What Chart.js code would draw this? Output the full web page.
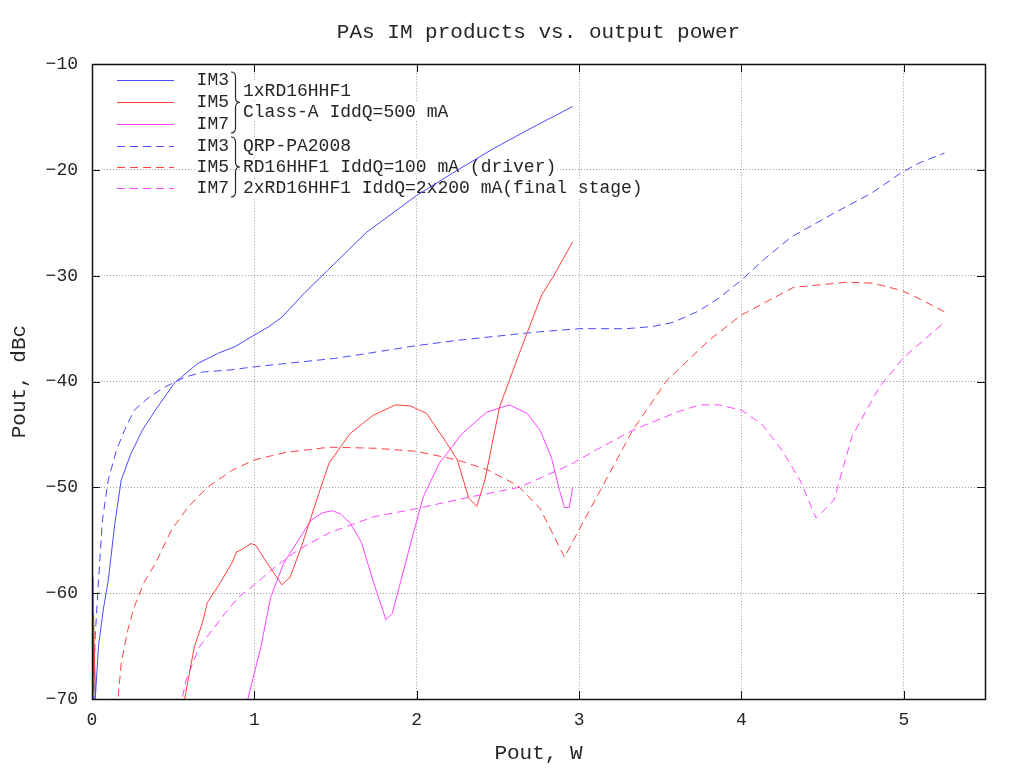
<!DOCTYPE html>
<html>
<head>
<meta charset="utf-8">
<script src="https://cdn.jsdelivr.net/npm/chart.js@4.4.1/dist/chart.umd.min.js"></script>
<style>
  html, body { margin: 0; padding: 0; background: #fff; }
  #chart-im { display: block; }
</style>
</head>
<body>
<canvas id="chart-im" width="1024" height="768"></canvas>
<script>
// ---- data (Pout in W, level in dBc) ----
const xTicks = [0, 1, 2, 3, 4, 5];
const yTicks = [-10, -20, -30, -40, -50, -60, -70];

// 1xRD16HHF1, Class-A IddQ=500 mA
const im3ClassAX = [0.006, 0.012, 0.02, 0.04, 0.07, 0.1, 0.14, 0.18, 0.24, 0.31, 0.39, 0.51, 0.65, 0.78, 0.88, 1.0, 1.09, 1.17, 1.31, 1.45, 1.69, 2.0, 2.22, 2.47, 2.71, 2.96];
const im3ClassAY = [-58.5, -72, -70, -65, -61.5, -58.8, -53.5, -49.3, -46.8, -44.6, -42.7, -40.1, -38.3, -37.3, -36.7, -35.6, -34.8, -33.9, -31.6, -29.5, -25.9, -22.4, -20.3, -18.0, -16.0, -14.0];

const im5ClassAX = [0.01, 0.022, 0.56, 0.57, 0.63, 0.68, 0.71, 0.79, 0.86, 0.89, 0.92, 0.98, 1.01, 1.08, 1.17, 1.22, 1.29, 1.39, 1.46, 1.59, 1.73, 1.87, 1.96, 2.06, 2.18, 2.25, 2.32, 2.37, 2.42, 2.51, 2.57, 2.64, 2.71, 2.77, 2.84, 2.96];
const im5ClassAY = [-62, -72, -72, -70, -65.1, -62.8, -60.9, -59.0, -57.2, -56.1, -55.9, -55.3, -55.5, -57.2, -59.2, -58.5, -55.6, -50.9, -47.7, -44.9, -43.2, -42.2, -42.3, -43.0, -45.7, -47.4, -51.0, -51.8, -49.3, -42.4, -39.9, -37.0, -34.2, -31.8, -30.1, -26.8];

const im7ClassAX = [0.014, 0.026, 0.95, 0.96, 1.04, 1.1, 1.18, 1.27, 1.35, 1.42, 1.48, 1.53, 1.59, 1.66, 1.73, 1.81, 1.85, 1.94, 2.04, 2.14, 2.28, 2.43, 2.57, 2.68, 2.76, 2.83, 2.88, 2.91, 2.94, 2.96];
const im7ClassAY = [-65.5, -72, -72, -70, -65.1, -60.4, -57.2, -55.0, -53.1, -52.4, -52.2, -52.5, -53.4, -55.2, -58.8, -62.5, -61.9, -56.6, -50.9, -47.7, -44.9, -42.9, -42.2, -43.0, -44.6, -47.2, -50.3, -51.9, -51.9, -50.0];

// QRP-PA2008 (driver + final stage)
const im3QrpX = [0.008, 0.02, 0.04, 0.065, 0.1, 0.15, 0.2, 0.26, 0.35, 0.45, 0.57, 0.68, 0.85, 1.0, 1.25, 1.5, 1.75, 2.0, 2.25, 2.5, 2.75, 3.0, 3.29, 3.45, 3.58, 3.74, 3.87, 4.0, 4.15, 4.31, 4.58, 4.8, 4.99, 5.1, 5.25];
const im3QrpY = [-70.5, -64, -58.8, -53, -49.3, -46.5, -44.6, -42.7, -41.5, -40.5, -39.6, -39.1, -38.9, -38.6, -38.2, -37.8, -37.2, -36.6, -36.1, -35.7, -35.3, -35.0, -35.0, -34.8, -34.4, -33.3, -32.0, -30.4, -28.3, -26.3, -24.0, -22.2, -20.2, -19.3, -18.4];

const im5QrpX = [0.155, 0.16, 0.18, 0.22, 0.26, 0.32, 0.39, 0.49, 0.59, 0.71, 0.86, 1.0, 1.19, 1.46, 1.75, 2.0, 2.25, 2.43, 2.62, 2.76, 2.91, 3.0, 3.13, 3.33, 3.54, 3.8, 4.0, 4.32, 4.65, 4.81, 4.99, 5.1, 5.25];
const im5QrpY = [-71, -70, -66.6, -63.5, -61.3, -59, -57.2, -54.0, -51.9, -50.0, -48.4, -47.4, -46.7, -46.2, -46.3, -46.6, -47.4, -48.3, -49.8, -52.0, -56.6, -54.0, -50.3, -44.6, -39.9, -36.1, -33.7, -31.1, -30.6, -30.7, -31.4, -32.2, -33.4];

const im7QrpX = [0.54, 0.58, 0.66, 0.74, 0.82, 0.9, 1.0, 1.13, 1.27, 1.46, 1.73, 2.0, 2.33, 2.63, 2.94, 3.1, 3.33, 3.6, 3.74, 3.86, 4.0, 4.13, 4.25, 4.36, 4.46, 4.57, 4.68, 4.85, 5.0, 5.25];
const im7QrpY = [-71, -68.2, -65.1, -63.5, -61.9, -60.4, -59.2, -57.5, -55.9, -54.3, -52.8, -52.0, -50.9, -50.0, -47.9, -46.5, -44.6, -42.9, -42.2, -42.2, -42.7, -44.1, -46.5, -49.3, -52.9, -51.2, -45.2, -40.5, -37.7, -34.4];

const seriesNames = ['IM3', 'IM5', 'IM7', 'IM3', 'IM5', 'IM7'];
const groupClassA = ['1xRD16HHF1', 'Class-A IddQ=500 mA'];
const groupQrp = ['QRP-PA2008', 'RD16HHF1 IddQ=100 mA (driver)', '2xRD16HHF1 IddQ=2x200 mA(final stage)'];

// ---- helpers ----
const FONT = "'Liberation Mono', 'DejaVu Sans Mono', monospace";
const TEXT = '#262626';
const BLUE = '#4a4aff', RED = '#ff4040', MAGENTA = '#ff45ff';
const DASH = [8, 5];

const toPoints = (xs, ys) => xs.map((x, i) => ({ x: x, y: ys[i] }));

const makeSet = (label, xs, ys, color, dashed) => ({
    label: label,
    data: toPoints(xs, ys),
    borderColor: color,
    backgroundColor: color,
    borderWidth: 1,
    borderDash: dashed ? DASH : [],
    pointRadius: 0,
    tension: 0,
    fill: false
});

// brace "}" pointing right
function drawBrace(ctx, x, y1, y2, w) {
    const ym = (y1 + y2) / 2, h = w / 2, r = 5;
    ctx.beginPath();
    ctx.moveTo(x, y1);
    ctx.quadraticCurveTo(x + h, y1, x + h, y1 + r);
    ctx.lineTo(x + h, ym - r);
    ctx.quadraticCurveTo(x + h, ym, x + w, ym);
    ctx.quadraticCurveTo(x + h, ym, x + h, ym + r);
    ctx.lineTo(x + h, y2 - r);
    ctx.quadraticCurveTo(x + h, y2, x, y2);
    ctx.stroke();
}

function textWithBack(ctx, txt, x, y, align) {
    const w = ctx.measureText(txt).width;
    const left = align === 'right' ? x - w : x;
    ctx.fillStyle = '#fff';
    ctx.fillRect(left - 1, y - 9, w + 2, 18);
    ctx.fillStyle = TEXT;
    ctx.textAlign = align;
    ctx.fillText(txt, x, y);
}

// gnuplot-like key with braces, drawn under the curves
const keyPlugin = {
    id: 'gnuKey',
    beforeDatasetsDraw(chart) {
        const ctx = chart.ctx;
        const rows = [80, 102, 124, 146, 167, 188];
        ctx.save();
        ctx.font = '18px ' + FONT;
        ctx.textBaseline = 'middle';
        rows.forEach((y, i) => {
            const ds = chart.data.datasets[i];
            textWithBack(ctx, seriesNames[i], 229, y, 'right');
            ctx.strokeStyle = ds.borderColor;
            ctx.lineWidth = 1;
            ctx.setLineDash(ds.borderDash);
            ctx.beginPath();
            ctx.moveTo(117, y + 0.5);
            ctx.lineTo(174, y + 0.5);
            ctx.stroke();
        });
        ctx.setLineDash([]);
        ctx.strokeStyle = TEXT;
        ctx.lineWidth = 1.2;
        drawBrace(ctx, 231, 72, 133, 9);
        drawBrace(ctx, 231, 137, 197, 9);
        [91, 112].forEach((y, i) => textWithBack(ctx, groupClassA[i], 243, y, 'left'));
        [146, 167, 188].forEach((y, i) => textWithBack(ctx, groupQrp[i], 243, y, 'left'));
        ctx.restore();
    }
};

// frame and inward tick marks like the original plot
const framePlugin = {
    id: 'gnuFrame',
    afterDraw(chart) {
        const { ctx, chartArea: a, scales } = chart;
        const len = 8;
        ctx.save();
        ctx.strokeStyle = '#111';
        ctx.lineWidth = 1;
        scales.x.ticks.forEach(t => {
            const px = Math.round(scales.x.getPixelForValue(t.value)) + 0.5;
            ctx.beginPath();
            ctx.moveTo(px, a.bottom); ctx.lineTo(px, a.bottom - len);
            ctx.moveTo(px, a.top); ctx.lineTo(px, a.top + len);
            ctx.stroke();
        });
        scales.y.ticks.forEach(t => {
            const py = Math.round(scales.y.getPixelForValue(t.value)) + 0.5;
            ctx.beginPath();
            ctx.moveTo(a.left, py); ctx.lineTo(a.left + len, py);
            ctx.moveTo(a.right, py); ctx.lineTo(a.right - len, py);
            ctx.stroke();
        });
        ctx.lineWidth = 1.5;
        ctx.strokeRect(Math.round(a.left) + 0.5, Math.round(a.top) + 0.5,
            Math.round(a.right - a.left), Math.round(a.bottom - a.top));
        ctx.restore();
    }
};

const ctx = document.getElementById('chart-im').getContext('2d');

new Chart(ctx, {
    type: 'line',
    data: {
        datasets: [
            makeSet('IM3 1xRD16HHF1', im3ClassAX, im3ClassAY, BLUE, false),
            makeSet('IM5 1xRD16HHF1', im5ClassAX, im5ClassAY, RED, false),
            makeSet('IM7 1xRD16HHF1', im7ClassAX, im7ClassAY, MAGENTA, false),
            makeSet('IM3 QRP-PA2008', im3QrpX, im3QrpY, BLUE, true),
            makeSet('IM5 QRP-PA2008', im5QrpX, im5QrpY, RED, true),
            makeSet('IM7 QRP-PA2008', im7QrpX, im7QrpY, MAGENTA, true)
        ]
    },
    options: {
        responsive: false,
        animation: false,
        devicePixelRatio: 1,
        layout: { padding: { top: 0, right: 39, bottom: 0, left: 0 } },
        plugins: {
            legend: { display: false },
            tooltip: { enabled: false },
            title: {
                display: true,
                fullSize: false,
                text: 'PAs IM products vs. output power',
                color: TEXT,
                font: { family: FONT, size: 21, weight: 'normal' },
                padding: { top: 20, bottom: 19 }
            }
        },
        scales: {
            x: {
                type: 'linear',
                min: 0,
                max: 5.5,
                afterBuildTicks: (scale) => { scale.ticks = xTicks.map(v => ({ value: v })); },
                afterFit: (scale) => { scale.height = 69; },
                ticks: { color: TEXT, font: { family: FONT, size: 18 }, padding: 10, maxRotation: 0 },
                grid: { color: '#a0a0a0', lineWidth: 1, drawTicks: false },
                border: { display: false, dash: [1, 2] },
                title: {
                    display: true,
                    text: 'Pout, W',
                    color: TEXT,
                    font: { family: FONT, size: 21 },
                    padding: { top: 0, bottom: 2 }
                }
            },
            y: {
                min: -70,
                max: -10,
                afterBuildTicks: (scale) => { scale.ticks = yTicks.map(v => ({ value: v })); },
                afterFit: (scale) => { scale.width = 92; },
                ticks: {
                    color: TEXT,
                    font: { family: FONT, size: 18 },
                    padding: 14,
                    callback: (v) => String(v).replace('-', '\u2212')
                },
                grid: { color: '#a0a0a0', lineWidth: 1, drawTicks: false },
                border: { display: false, dash: [1, 2] },
                title: {
                    display: true,
                    text: 'Pout, dBc',
                    color: TEXT,
                    font: { family: FONT, size: 21 },
                    padding: { top: 7, bottom: 0 }
                }
            }
        }
    },
    plugins: [keyPlugin, framePlugin]
});
</script>
</body>
</html>
